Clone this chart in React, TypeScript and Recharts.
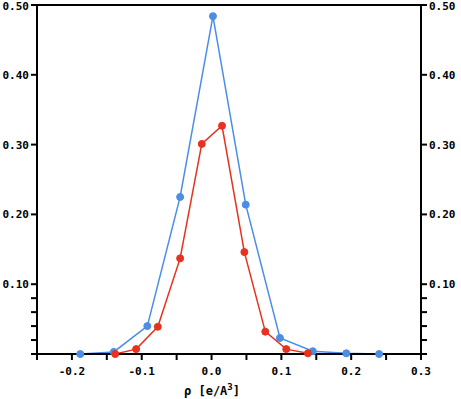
import { LineChart, Line, XAxis, YAxis, ReferenceLine, Label } from 'recharts'

const blueX = [-0.188, -0.14, -0.092, -0.045, 0.002, 0.049, 0.098, 0.145, 0.193, 0.24]
const blueY = [0.0, 0.003, 0.04, 0.225, 0.484, 0.214, 0.023, 0.004, 0.001, 0.0]
const redX = [-0.138, -0.108, -0.077, -0.045, -0.014, 0.015, 0.047, 0.077, 0.107, 0.138]
const redY = [0.0, 0.007, 0.039, 0.137, 0.301, 0.327, 0.146, 0.032, 0.007, 0.001]

const xTicks = [-0.25, -0.2, -0.15, -0.1, -0.05, 0, 0.05, 0.1, 0.15, 0.2, 0.25, 0.3]
const yTicks = [0, 0.02, 0.04, 0.06, 0.08, 0.1, 0.2, 0.3, 0.4, 0.5]

const blueData = blueX.map((x, i) => ({ x, y: blueY[i] }))
const redData = redX.map((x, i) => ({ x, y: redY[i] }))

const mono = '"DejaVu Sans Mono", monospace'
const font = { fontFamily: mono, fontSize: 11, fontWeight: 'bold' as const, fill: '#000' }
const axisStroke = { stroke: '#000', strokeWidth: 2 }

function fmtX(v: number): string {
  const t = v * 10
  if (Math.abs(t - Math.round(t)) > 1e-6) return ''
  if (Math.abs(v) < 1e-9) return '0.0'
  return v.toFixed(1)
}

function fmtY(v: number): string {
  if (v < 0.099) return ''
  return v.toFixed(2)
}

// eslint-disable-next-line @typescript-eslint/no-explicit-any
function AxisTitle(props: any) {
  const vb = props.viewBox || { x: 0, width: 0 }
  const cx = vb.x + vb.width / 2 - 17
  return (
    <text x={cx} y={395} textAnchor="middle" fontFamily={mono} fontSize={12} fontWeight="bold" fill="#000">
      <tspan>ρ [e/A</tspan>
      <tspan dy={-5} fontSize={9}>3</tspan>
      <tspan dy={5}>]</tspan>
    </text>
  )
}

export default function App() {
  return (
    <div style={{ position: 'absolute', left: 0, top: 0, background: '#fff' }}>
      <LineChart
        width={461}
        height={399}
        margin={{ top: 5, right: 0, bottom: 0, left: 0 }}
      >
        <XAxis
          type="number"
          dataKey="x"
          domain={[-0.25, 0.3]}
          ticks={xTicks}
          tickFormatter={fmtX}
          tick={{ ...font, dy: 5 }}
          axisLine={axisStroke}
          tickLine={axisStroke}
          tickSize={6}
          height={45}
        >
          <Label content={AxisTitle} />
        </XAxis>
        <YAxis
          yAxisId="left"
          type="number"
          domain={[0, 0.5]}
          ticks={yTicks}
          tickFormatter={fmtY}
          tick={font}
          axisLine={axisStroke}
          tickLine={axisStroke}
          tickSize={6}
          width={37}
        />
        <YAxis
          yAxisId="right"
          orientation="right"
          type="number"
          domain={[0, 0.5]}
          ticks={yTicks}
          tickFormatter={fmtY}
          tick={font}
          axisLine={axisStroke}
          tickLine={axisStroke}
          tickSize={6}
          width={40}
          allowDataOverflow
        />
        <ReferenceLine yAxisId="left" y={0.5} stroke="#000" strokeWidth={2} />
        <Line
          yAxisId="left"
          data={blueData}
          dataKey="y"
          stroke="#4a8ee6"
          strokeWidth={1.5}
          dot={{ r: 3.5, fill: '#4a8ee6', stroke: '#4a8ee6', strokeWidth: 1 }}
          isAnimationActive={false}
        />
        <Line
          yAxisId="left"
          data={redData}
          dataKey="y"
          stroke="#e6321e"
          strokeWidth={1.5}
          dot={{ r: 3.5, fill: '#e6321e', stroke: '#e6321e', strokeWidth: 1 }}
          isAnimationActive={false}
        />
      </LineChart>
    </div>
  )
}
